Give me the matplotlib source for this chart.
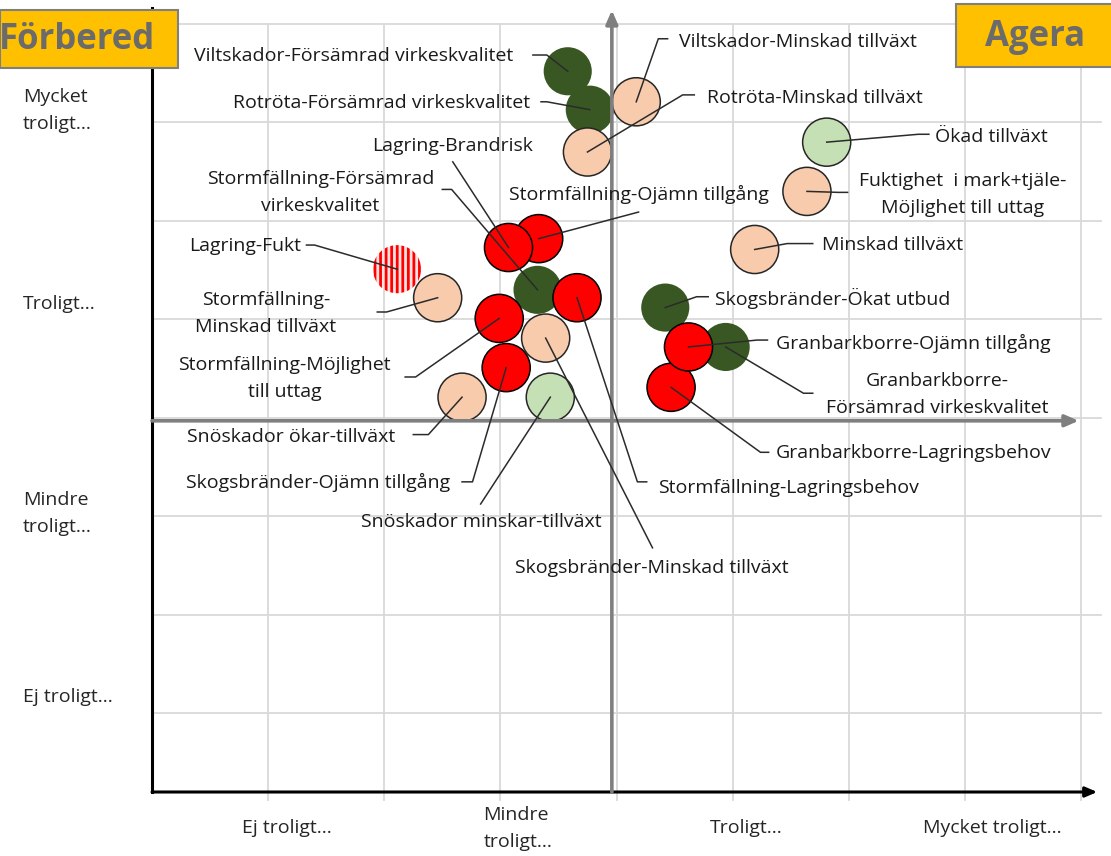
import matplotlib
matplotlib.use('Agg')
import matplotlib.pyplot as plt
from matplotlib.patches import Rectangle

plt.rcParams['font.family'] = ['Open Sans', 'DejaVu Sans']
plt.rcParams['hatch.linewidth'] = 2.0
plt.rcParams['hatch.color'] = 'red'

# bubbles, listed in drawing order
names = ['Viltskador-Försämrad virkeskvalitet', 'Rotröta-Försämrad virkeskvalitet',
         'Stormfällning-Försämrad\nvirkeskvalitet', 'Skogsbränder-Ökat utbud',
         'Granbarkborre-\nFörsämrad virkeskvalitet',
         'Stormfällning-Ojämn tillgång', 'Lagring-Brandrisk', 'Stormfällning-Lagringsbehov',
         'Stormfällning-Möjlighet\ntill uttag', 'Skogsbränder-Ojämn tillgång',
         'Granbarkborre-Lagringsbehov', 'Granbarkborre-Ojämn tillgång',
         'Rotröta-Minskad tillväxt', 'Viltskador-Minskad tillväxt',
         'Fuktighet  i mark+tjäle-\nMöjlighet till uttag', 'Minskad tillväxt',
         'Skogsbränder-Minskad tillväxt', 'Snöskador ökar-tillväxt',
         'Stormfällning-\nMinskad tillväxt', 'Ökad tillväxt', 'Snöskador minskar-tillväxt',
         'Lagring-Fukt']
kind = ['dg', 'dg', 'dg', 'dg', 'dg',
        'r', 'r', 'r', 'r', 'r', 'r', 'r',
        'p', 'p', 'p', 'p', 'p', 'p', 'p',
        'lg', 'lg', 'stripe']
x = [3.58, 3.77, 3.32, 4.42, 4.94,
     3.33, 3.07, 3.66, 2.99, 3.05, 4.47, 4.62,
     3.75, 4.17, 5.64, 5.19, 3.39, 2.67, 2.46,
     5.81, 3.43, 2.11]
y = [7.52, 7.13, 5.30, 5.12, 4.72,
     5.82, 5.73, 5.22, 5.01, 4.51, 4.31, 4.72,
     6.70, 7.21, 6.30, 5.71, 4.81, 4.21, 5.22,
     6.80, 4.21, 5.51]

# label centres, leader elbows and the end of the short horizontal stub
lab_x = [1.74, 1.98, 1.45, 5.86, 6.76,
         4.19, 2.59, 5.48, 1.14, 1.43, 6.56, 6.56,
         5.71, 5.56, 6.98, 6.38, 4.30, 1.20, 0.98,
         7.23, 2.84, 0.80]
lab_y = [7.67, 7.20, 6.29, 5.21, 4.24,
         6.27, 6.76, 3.29, 4.40, 3.34, 3.64, 4.76,
         7.25, 7.82, 6.27, 5.76, 2.48, 3.81, 5.06,
         6.85, 2.94, 5.75]
elb_x = [3.40, 3.40, 2.58, 4.69, 5.61,
         4.19, 2.59, 4.18, 2.27, 2.76, 5.24, 5.21,
         4.57, 4.36, 5.91, 5.47, 4.31, 2.38, 2.02,
         6.60, 2.83, 1.40]
elb_y = [7.685, 7.21, 6.32, 5.23, 4.25,
         6.09, 6.60, 3.35, 4.415, 3.35, 3.65, 4.79,
         7.28, 7.85, 6.29, 5.77, 2.68, 3.83, 5.075,
         6.88, 3.125, 5.755]
end_x = [3.28, 3.35, 2.50, 4.79, 5.69,
         4.19, 2.59, 4.26, 2.18, 2.67, 5.31, 5.30,
         4.67, 4.44, 5.99, 5.69, 4.31, 2.25, 1.94,
         6.69, 2.83, 1.33]

y_cats = ['Mycket\ntroligt...', 'Troligt...', 'Mindre\ntroligt...', 'Ej troligt...']
y_cat_pos = [7.12, 5.16, 3.03, 1.16]
x_cats = ['Ej troligt...', 'Mindre\ntroligt...', 'Troligt...', 'Mycket troligt...']
x_cat_pos = [1.16, 3.15, 5.12, 7.24]

face = {'dg': '#385723', 'r': '#ff0000', 'p': '#f8cbad', 'lg': '#c5e0b4'}
edge = {'dg': 'none', 'r': '#000000', 'p': '#262626', 'lg': '#262626'}

fig = plt.figure(figsize=(11.11, 8.56), dpi=100)
ax = fig.add_axes([152 / 1111, 64 / 856, 929 / 1111, 768 / 856])
ax.set_xlim(0, 8)
ax.set_ylim(0.2, 8)
ax.axis('off')

# grid
for g in range(1, 9):
    ax.plot([g, g], [0.12, 8], color='#d9d9d9', lw=1.3, zorder=0, clip_on=False)
    ax.plot([0, 8.17], [g, g], color='#d9d9d9', lw=1.3, zorder=0, clip_on=False)

# bubbles
solid = [i for i, k in enumerate(kind) if k != 'stripe']
ax.scatter([x[i] for i in solid], [y[i] for i in solid], s=1200,
           c=[face[kind[i]] for i in solid], edgecolors=[edge[kind[i]] for i in solid],
           linewidths=[0 if kind[i] == 'dg' else 1.1 for i in solid], zorder=2)
striped = [i for i, k in enumerate(kind) if k == 'stripe']
ax.scatter([x[i] for i in striped], [y[i] for i in striped], s=1200, c='#ffe3e3',
           edgecolors='red', linewidths=0, hatch='|||', zorder=2)

# axes with arrows
ax.plot([0, 0], [0.2, 8.16], color='black', lw=2.2, zorder=3, clip_on=False)
ax.annotate('', xy=(8.14, 0.2), xytext=(0, 0.2), annotation_clip=False, zorder=3,
            arrowprops=dict(arrowstyle='-|>,head_length=0.7,head_width=0.3',
                            color='black', lw=2.2, shrinkA=0, shrinkB=0))
ax.annotate('', xy=(3.96, 8.14), xytext=(3.96, 0.2), annotation_clip=False, zorder=3,
            arrowprops=dict(arrowstyle='-|>,head_length=0.8,head_width=0.35',
                            color='#7f7f7f', lw=2.6, shrinkA=0, shrinkB=0))
ax.annotate('', xy=(7.98, 3.97), xytext=(0, 3.97), annotation_clip=False, zorder=3,
            arrowprops=dict(arrowstyle='-|>,head_length=0.8,head_width=0.35',
                            color='#7f7f7f', lw=2.6, shrinkA=0, shrinkB=0))

# leader lines and labels
for i in range(len(names)):
    ax.plot([x[i], elb_x[i], end_x[i]], [y[i], elb_y[i], elb_y[i]],
            color='#2b2b2b', lw=1.1, zorder=4, clip_on=False)
    ax.text(lab_x[i], lab_y[i], names[i], ha='center', va='center', ma='center',
            fontsize=14, color='#1a1a1a', linespacing=1.65, zorder=5)

for lab, pos in zip(y_cats, y_cat_pos):
    ax.text(-1.11, pos, lab, ha='left', va='center', fontsize=14,
            color='#262626', linespacing=1.6)
for lab, pos in zip(x_cats, x_cat_pos):
    ax.text(pos, -0.17, lab, ha='center', va='center', ma='left', fontsize=14,
            color='#262626', linespacing=1.6)

# corner boxes
fig.patches.append(Rectangle((0, 1 - 68 / 856), 178 / 1111, 58 / 856,
                             transform=fig.transFigure, facecolor='#ffc000',
                             edgecolor='#7f7f7f', lw=1.5, zorder=6))
fig.text(77 / 1111, 1 - 40 / 856, 'Förbered', ha='center', va='center',
         fontsize=25, fontweight='bold', color='#6b6b6b', zorder=7)
fig.patches.append(Rectangle((956 / 1111, 1 - 67 / 856), 160 / 1111, 63 / 856,
                             transform=fig.transFigure, facecolor='#ffc000',
                             edgecolor='#7f7f7f', lw=1.5, zorder=6))
fig.text(1035 / 1111, 1 - 37 / 856, 'Agera', ha='center', va='center',
         fontsize=25, fontweight='bold', color='#6b6b6b', zorder=7)

fig.savefig('out.png', dpi=100)
